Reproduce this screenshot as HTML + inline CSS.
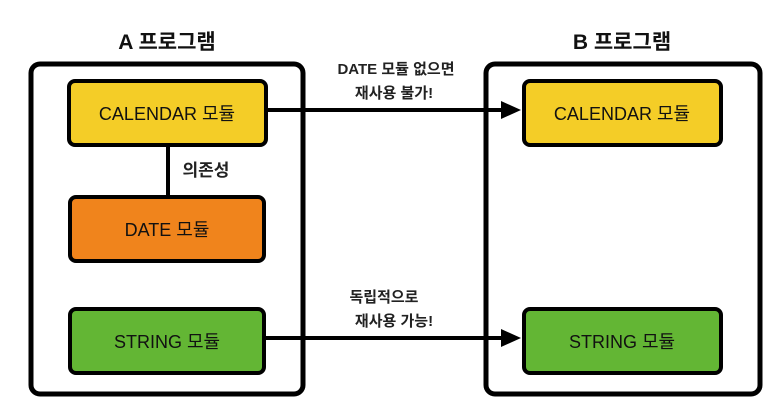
<!DOCTYPE html>
<html><head><meta charset="utf-8"><style>
body{margin:0;background:#fff;}
</style></head><body>
<svg width="774" height="407" viewBox="0 0 774 407" xmlns="http://www.w3.org/2000/svg" style="display:block;font-family:'Liberation Sans','Noto Sans CJK KR',sans-serif">
<rect x="0" y="0" width="774" height="407" fill="#fff"/>
<text x="167" y="49" font-size="21" font-weight="bold" text-anchor="middle" fill="#111">A 프로그램</text>
<text x="622" y="49" font-size="21" font-weight="bold" text-anchor="middle" fill="#111">B 프로그램</text>
<rect x="31" y="64" width="272" height="330" rx="9" fill="#fff" stroke="#000" stroke-width="5"/>
<rect x="486" y="64" width="274" height="330" rx="9" fill="#fff" stroke="#000" stroke-width="5"/>
<line x1="168" y1="145" x2="168" y2="197" stroke="#000" stroke-width="4"/>
<text x="206" y="176" font-size="17" font-weight="bold" text-anchor="middle" fill="#222">의존성</text>
<rect x="69" y="81" width="197" height="64" rx="6" fill="#f4cd27" stroke="#000" stroke-width="4"/>
<text x="167" y="120" font-size="18" text-anchor="middle" fill="#111">CALENDAR 모듈</text>
<rect x="70" y="197" width="194" height="64" rx="6" fill="#f0841c" stroke="#000" stroke-width="4"/>
<text x="167" y="236" font-size="18" text-anchor="middle" fill="#111">DATE 모듈</text>
<rect x="70" y="309" width="194" height="64" rx="6" fill="#63b634" stroke="#000" stroke-width="4"/>
<text x="167" y="348" font-size="18" text-anchor="middle" fill="#111">STRING 모듈</text>
<rect x="524" y="81" width="197" height="64" rx="6" fill="#f4cd27" stroke="#000" stroke-width="4"/>
<text x="622" y="120" font-size="18" text-anchor="middle" fill="#111">CALENDAR 모듈</text>
<rect x="524" y="309" width="197" height="64" rx="6" fill="#63b634" stroke="#000" stroke-width="4"/>
<text x="622" y="348" font-size="18" text-anchor="middle" fill="#111">STRING 모듈</text>
<line x1="266" y1="110" x2="503" y2="110" stroke="#000" stroke-width="4"/>
<polygon points="501,101 521,110 501,119" fill="#000"/>
<line x1="264" y1="338" x2="503" y2="338" stroke="#000" stroke-width="4"/>
<polygon points="501,329 521,338 501,347" fill="#000"/>
<text x="396" y="74" font-size="15" font-weight="bold" text-anchor="middle" fill="#222">DATE 모듈 없으면</text>
<text x="394" y="98" font-size="15" font-weight="bold" text-anchor="middle" fill="#222">재사용 불가!</text>
<text x="384" y="302" font-size="15" font-weight="bold" text-anchor="middle" fill="#222">독립적으로</text>
<text x="394" y="326" font-size="15" font-weight="bold" text-anchor="middle" fill="#222">재사용 가능!</text>
</svg>
</body></html>
